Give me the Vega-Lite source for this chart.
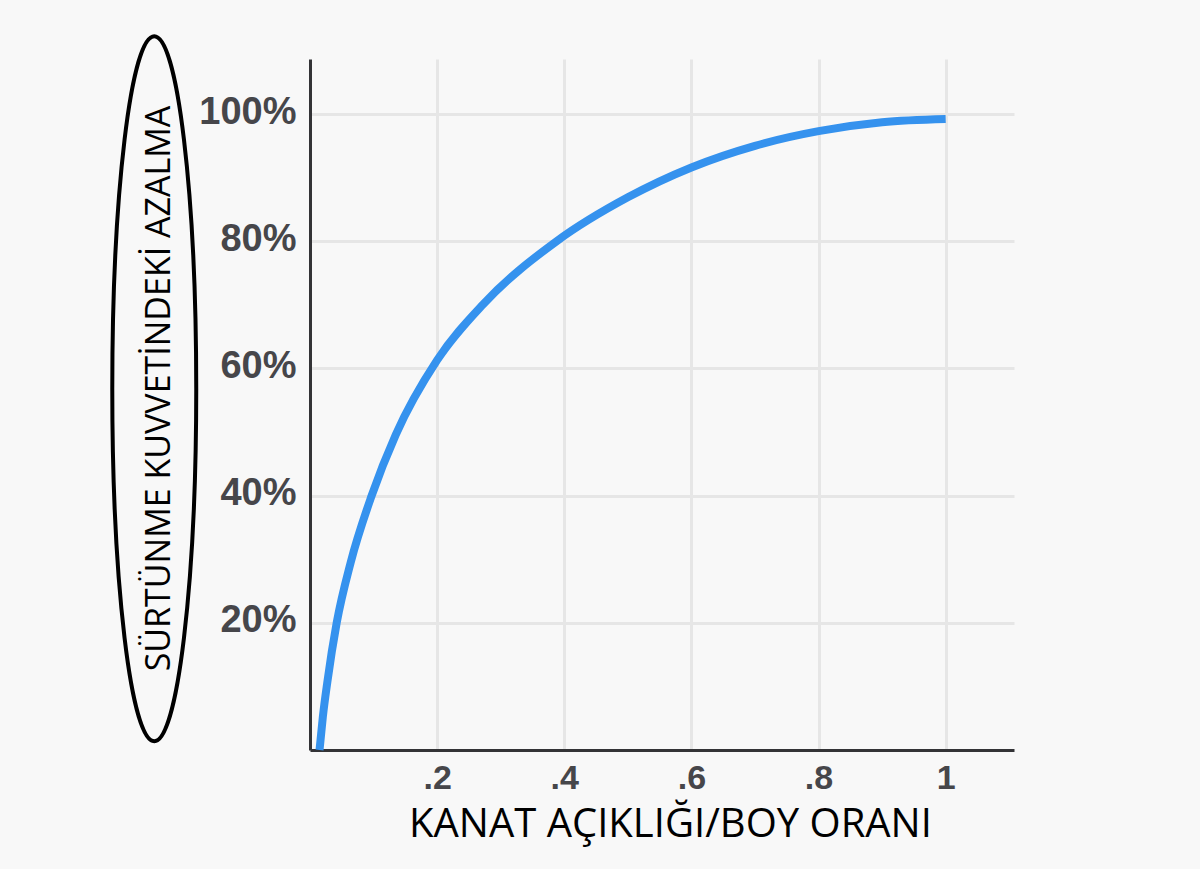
{
  "$schema": "https://vega.github.io/schema/vega-lite/v6.json",
  "width": 704,
  "height": 691,
  "autosize": {"type": "none"},
  "padding": {"left": 310, "top": 59, "right": 186, "bottom": 119},
  "background": "#f8f8f8",
  "config": {
    "view": {"stroke": null},
    "axis": {
      "domainColor": "#333336",
      "domainWidth": 3,
      "gridColor": "#e6e6e6",
      "gridWidth": 3,
      "ticks": false,
      "labelFont": "Liberation Sans, Arial, sans-serif",
      "labelFontWeight": "bold",
      "labelColor": "#46464a",
      "titleFont": "Open Sans, sans-serif",
      "titleFontWeight": "normal",
      "titleColor": "#000000"
    }
  },
  "datasets": {
    "curve": [
      {"oran": 0.015, "azalma": 0},
      {"oran": 0.0202, "azalma": 5.2},
      {"oran": 0.0273, "azalma": 10.7},
      {"oran": 0.042, "azalma": 20},
      {"oran": 0.064, "azalma": 29.5},
      {"oran": 0.097, "azalma": 40},
      {"oran": 0.135, "azalma": 49.6},
      {"oran": 0.2, "azalma": 61.3},
      {"oran": 0.2725, "azalma": 70.1},
      {"oran": 0.388, "azalma": 80},
      {"oran": 0.5, "azalma": 86.9},
      {"oran": 0.6, "azalma": 91.6},
      {"oran": 0.7, "azalma": 95.0},
      {"oran": 0.8, "azalma": 97.3},
      {"oran": 0.9, "azalma": 98.7},
      {"oran": 1.0, "azalma": 99.2}
    ],
    "frame": [
      {"oran": -0.245, "azalma": 56.8}
    ]
  },
  "layer": [
    {
      "data": {"name": "curve"},
      "mark": {"type": "line", "color": "#3592ee", "strokeWidth": 8, "interpolate": "monotone", "strokeCap": "butt"},
      "encoding": {
        "x": {
          "field": "oran",
          "type": "quantitative",
          "scale": {"domain": [0, 1.1075], "nice": false, "zero": false},
          "axis": {
            "values": [0.2, 0.4, 0.6, 0.8, 1],
            "labelExpr": "datum.value == 1 ? '1' : replace(format(datum.value, '.1f'), '0.', '.')",
            "labelFontSize": 34,
            "labelPadding": 11,
            "title": "KANAT AÇIKLIĞI/BOY ORANI",
            "titleFontSize": 40,
            "titleBaseline": "alphabetic",
            "titleAlign": "center",
            "titleX": 360,
            "titleY": 86
          }
        },
        "y": {
          "field": "azalma",
          "type": "quantitative",
          "scale": {"domain": [0, 108.65], "nice": false},
          "axis": {
            "values": [20, 40, 60, 80, 100],
            "labelExpr": "datum.value + '%'",
            "labelFontSize": 38,
            "labelPadding": 14,
            "labelOffset": -2,
            "title": "SÜRTÜNME KUVVETİNDEKİ AZALMA",
            "titleFontSize": 34,
            "titleAngle": -90,
            "titleBaseline": "alphabetic",
            "titleAlign": "center",
            "titleX": -141,
            "titleY": 329
          }
        }
      }
    },
    {
      "data": {"name": "frame"},
      "mark": {
        "type": "point",
        "shape": "M0,-1C0.0658,-1,0.1191,-0.5523,0.1191,0C0.1191,0.5523,0.0658,1,0,1C-0.0658,1,-0.1191,0.5523,-0.1191,0C-0.1191,-0.5523,-0.0658,-1,0,-1Z",
        "size": 497025,
        "filled": false,
        "stroke": "#000000",
        "strokeWidth": 4,
        "opacity": 1
      },
      "encoding": {
        "x": {"field": "oran", "type": "quantitative"},
        "y": {"field": "azalma", "type": "quantitative"}
      }
    }
  ]
}
